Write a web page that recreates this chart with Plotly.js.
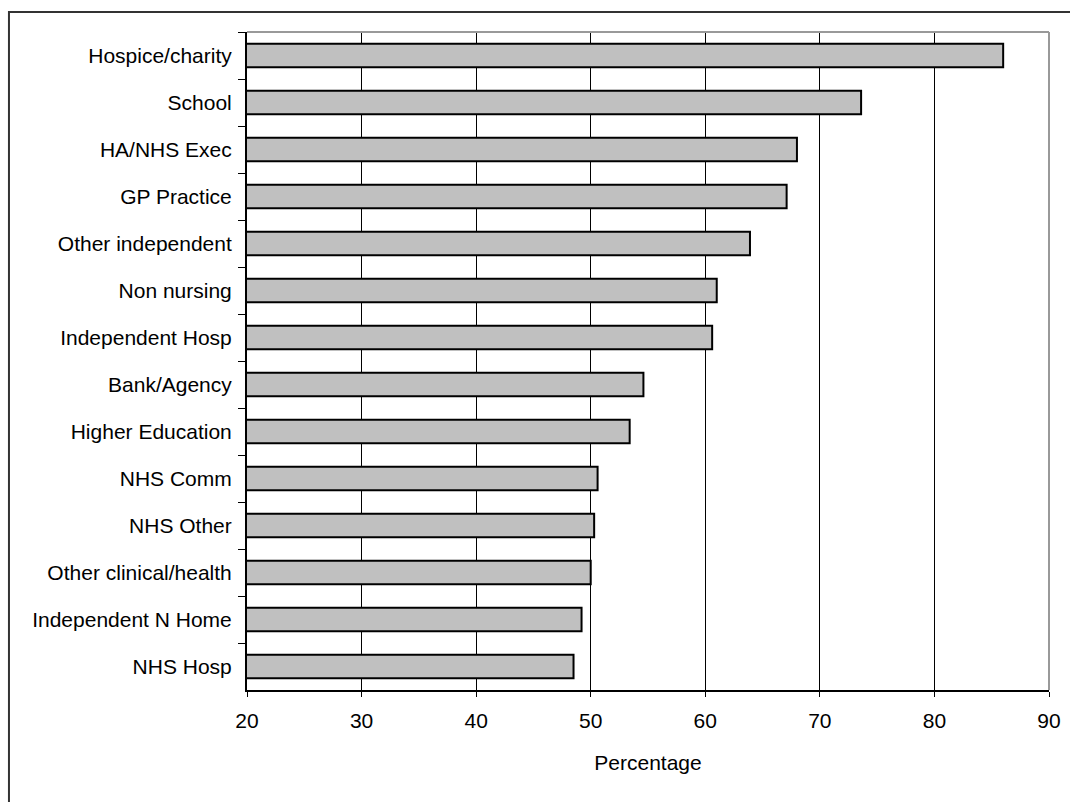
<!DOCTYPE html>
<html>
<head>
<meta charset="utf-8">
<script src="https://cdn.plot.ly/plotly-3.0.1.min.js"></script>
<style>
  html, body { margin: 0; padding: 0; background: #ffffff; }
  #chart { width: 1070px; height: 802px; }
</style>
</head>
<body>
<div id="chart"></div>
<script>
// Workplace categories, top to bottom
const categories = [
  "Hospice/charity",
  "School",
  "HA/NHS Exec",
  "GP Practice",
  "Other independent",
  "Non nursing",
  "Independent Hosp",
  "Bank/Agency",
  "Higher Education",
  "NHS Comm",
  "NHS Other",
  "Other clinical/health",
  "Independent N Home",
  "NHS Hosp"
];

// Percentage for each category
const percentages = [86.0, 73.6, 68.0, 67.1, 63.9, 61.0, 60.6, 54.6, 53.4, 50.6, 50.3, 50.0, 49.2, 48.5];

// Axis ticks
const xTicks = [20, 30, 40, 50, 60, 70, 80, 90];
const xTitle = "Percentage";

const fontFamily = '"Liberation Sans", Arial, sans-serif';

const trace = {
  type: "bar",
  orientation: "h",
  y: categories,
  x: percentages,
  marker: {
    color: "#c0c0c0",
    line: { color: "#000000", width: 2 }
  },
  hoverinfo: "x+y"
};

const layout = {
  width: 1070,
  height: 802,
  margin: { l: 247, r: 21, t: 32, b: 112 },
  paper_bgcolor: "#ffffff",
  plot_bgcolor: "#ffffff",
  showlegend: false,
  bargap: 0.5,
  font: { family: fontFamily, size: 21, color: "#000000" },
  xaxis: {
    range: [20, 90],
    tickvals: xTicks,
    ticktext: xTicks.map(String),
    ticks: "outside",
    ticklen: 5,
    tickwidth: 1,
    tickcolor: "#000000",
    ticklabelstandoff: 6,
    showgrid: true,
    gridcolor: "#000000",
    gridwidth: 1,
    showline: true,
    linecolor: "#000000",
    linewidth: 2,
    zeroline: false,
    tickfont: { family: fontFamily, size: 21, color: "#000000" },
    title: { text: xTitle, font: { family: fontFamily, size: 21, color: "#000000" }, standoff: 24 }
  },
  yaxis: {
    type: "category",
    categoryorder: "array",
    categoryarray: categories,
    autorange: "reversed",
    ticks: "outside",
    tickson: "boundaries",
    ticklen: 7,
    tickwidth: 1,
    tickcolor: "#000000",
    ticklabelstandoff: 9,
    showgrid: false,
    showline: true,
    linecolor: "#000000",
    linewidth: 2,
    zeroline: false,
    tickfont: { family: fontFamily, size: 21, color: "#000000" }
  },
  shapes: [
    // outer frame
    {
      type: "rect", xref: "paper", yref: "paper",
      x0: -0.2968, x1: 1.04, y0: -0.2, y1: 1.0304,
      line: { color: "#333333", width: 2 }, fillcolor: "rgba(0,0,0,0)", layer: "below"
    },
    // plot area top and right edges
    {
      type: "line", xref: "paper", yref: "paper",
      x0: 0, x1: 1, y0: 1, y1: 1,
      line: { color: "#999999", width: 2 }
    },
    {
      type: "line", xref: "paper", yref: "paper",
      x0: 1, x1: 1, y0: 0, y1: 1,
      line: { color: "#999999", width: 2 }
    }
  ]
};

Plotly.newPlot("chart", [trace], layout, { displayModeBar: false, staticPlot: true });
</script>
</body>
</html>
